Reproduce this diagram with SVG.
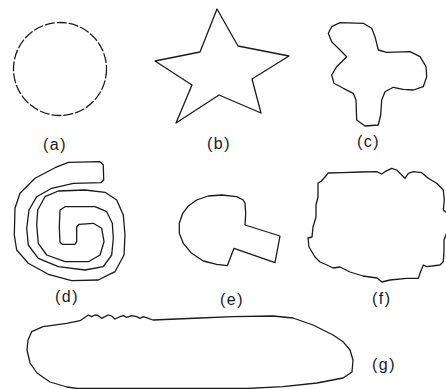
<svg xmlns="http://www.w3.org/2000/svg" width="446" height="389" viewBox="0 0 446 389">
<style>
.s{fill:none;stroke:#1a1a1a;stroke-width:1.3;stroke-linejoin:round;stroke-linecap:round}
.d{stroke-dasharray:9 3}
.t{font-family:"Liberation Sans",Arial,sans-serif;font-size:16px;letter-spacing:1.5px;fill:#1a1a1a}
</style>
<rect width="446" height="389" fill="#fff"/>
<g id="a">
<circle class="s d" cx="60" cy="69" r="46.5"/>
<text class="t" x="43" y="150">(a)</text>
</g>
<g id="b">
<polygon class="s" points="217,9 238,46 289,56 252,79 261,113 219,95 176,123 192,85 155,61 200,52"/>
<text class="t" x="207" y="148.5">(b)</text>
</g>
<g id="c">
<polygon class="s" points="340,22.7 363.3,23.3 371.7,28.3 375,36.7 378.3,50 386.7,52.3 410,51.7 420,56.7 426,66.7 426.7,76.7 423.3,86.7 413.3,90 403.3,89.3 393.3,87.3 385,91.7 381.7,100 380.7,115 378.3,125 365,126 356.7,120 356,100 353.3,93.3 343.3,88.3 334,83.3 331.7,75 336.7,66.7 346.7,56.7 340,50 331.7,41.7 328.3,33.3 331.7,26.7"/>
<text class="t" x="357" y="147">(c)</text>
</g>
<g id="d">
<polygon class="s" points="68.3,162.3 100,161.7 103.3,165 103.7,180 101,182.7 73.3,183.3 51.7,188.3 36.7,196.7 29,210 26.7,228.3 28.3,245 38.3,258.3 58.3,266.7 85,270 103.3,266.7 111.7,255 113.3,238.3 112.3,223.3 106.7,211.7 95,206.7 65,206.7 60,210 59.3,226.7 60,242.3 62.3,244.3 75,244.3 76.7,241.7 76.7,226.7 79,224.3 93.3,223.3 101.7,228.3 104,241.7 100,255 88.3,261.7 65,261.7 46.7,255 38.3,243.3 36.7,225 37.7,210 45,196.7 58.3,191 85,190 105,192.3 116.7,200 123.3,215 125,235 124,255 115,271.7 98.3,280 71.7,280.7 48.3,274.3 28.3,263.3 16.7,250 14.3,235 15,208.3 20,193.3 35,178.3 55,167.7"/>
<text class="t" x="55" y="302">(d)</text>
</g>
<g id="e">
<polygon class="s" points="245,203.3 243.3,200 236.7,196.7 221.7,195 208.3,196 196.7,200 188.3,206 182.7,213.3 179.3,223.3 179.3,233.3 183.3,243.3 191.7,253.3 203.3,261 216.7,264.3 227.3,265.7 234,248.3 275,262.7 280,236 245,225 245.7,213.3"/>
<text class="t" x="220" y="305">(e)</text>
</g>
<g id="f">
<polygon class="s" points="326.7,175 328,173 343,172.7 360,172 376.7,171.7 381.7,174 385,171.7 391.7,168.3 396.7,170 405,178.3 408.3,173.3 413.3,171.7 421.7,172.7 428.3,178.3 436.7,183.3 443.3,190 444.3,200 443.3,210 447,213 447,232 444,240 444,250 443.3,261.7 440,265 426.7,266.7 423.3,265 420,273.3 418.3,278.3 406.7,278.3 390,280 382,282 377,278 363,276 350,272 340,267 333,268 327,265 320,262 315,257 309,247 308,238 312,237 313,227 316,217 316,205 318,197 318,183 320.7,181.7"/>
<text class="t" x="372" y="303.5">(f)</text>
</g>
<g id="g">
<polygon class="s" points="31.7,331.7 43,326.7 66.7,323.3 80,320.7 88.3,315 91.7,316.7 95,315 98.3,315.7 101.7,318.3 105,316.7 108.3,315 111.7,316 115,319 120,316.7 123.3,315.7 126.7,317.3 131.7,315.7 136.7,316.7 140,318.3 143.3,316.7 148.3,318.3 153,320 200,318 233,316.7 273,316 293,318 313,325 333,335 343,341.7 350,350 353,360 352,372 343,378 317,383 283,386.7 247,388.5 77,388.5 67,387 50,382 37,373 30,363 27,350 28,340"/>
<text class="t" x="372" y="370">(g)</text>
</g>
<g id="connectors"/>
</svg>
